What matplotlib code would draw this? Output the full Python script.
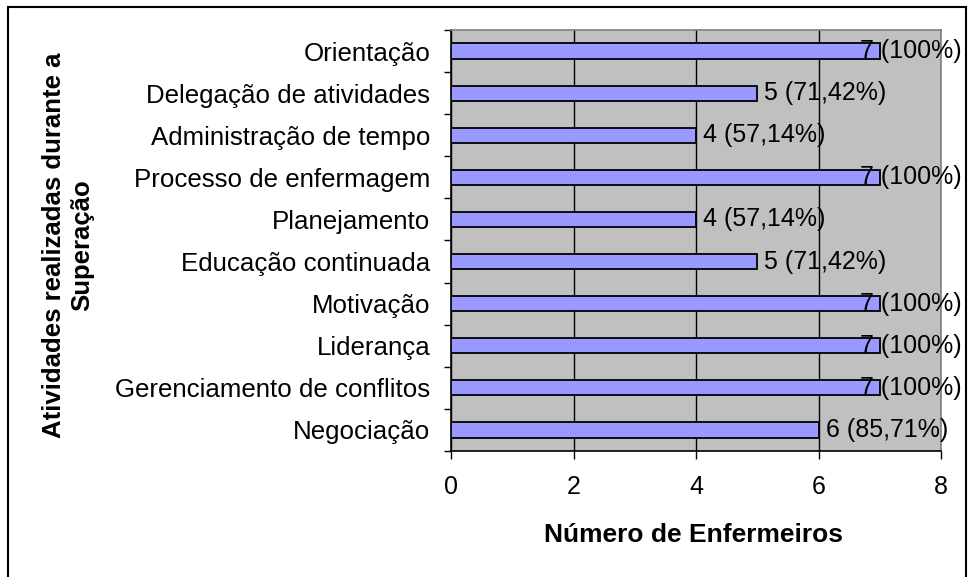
import matplotlib
matplotlib.use('Agg')
import matplotlib.pyplot as plt
import matplotlib.patches as mpatches
import numpy as np

plt.rcParams['font.family'] = ['Liberation Sans', 'DejaVu Sans']

categories = ['Orientação', 'Delegação de atividades', 'Administração de tempo',
              'Processo de enfermagem', 'Planejamento', 'Educação continuada',
              'Motivação', 'Liderança', 'Gerenciamento de conflitos', 'Negociação']
values = [7, 5, 4, 7, 4, 5, 7, 7, 7, 6]
value_labels = ['7 (100%)', '5 (71,42%)', '4 (57,14%)', '7 (100%)', '4 (57,14%)',
                '5 (71,42%)', '7 (100%)', '7 (100%)', '7 (100%)', '6 (85,71%)']
x_ticks = [0, 2, 4, 6, 8]

fig = plt.figure(figsize=(9.68, 5.77), dpi=100)
ax = fig.add_axes([451/968, 1 - 451/577, (941-451)/968, (451-30)/577])
ax.set_facecolor('#C0C0C0')

y = np.arange(len(categories))
ax.barh(y, values, height=0.36, color='#9999FF', edgecolor='black', linewidth=1.3, zorder=3)

for yi, v, lab in zip(y, values, value_labels):
    # labels on the longest bars get pushed left to stay inside the frame
    dx = -20 if v == max(values) else 7
    ax.annotate(lab, (v, yi), xytext=(dx, 0), textcoords='offset pixels',
                ha='left', va='center', fontsize=18, zorder=4, annotation_clip=False)

ax.set_xlim(0, 8)
ax.set_ylim(len(categories) - 0.5, -0.5)
ax.set_xticks(x_ticks)
ax.set_xticklabels([str(t) for t in x_ticks], fontsize=18)
ax.set_yticks(y)
ax.set_yticklabels(categories, fontsize=18.6)
ax.set_yticks(np.arange(len(categories) + 1) - 0.5, minor=True)
ax.tick_params(axis='y', which='major', length=0, pad=15)
ax.tick_params(axis='y', which='minor', length=5, width=1, direction='out')
ax.tick_params(axis='x', which='major', length=6, width=1, direction='out', pad=11)
ax.xaxis.grid(True, color='black', linewidth=1)
ax.set_axisbelow(True)

ax.spines['left'].set_color('black')
ax.spines['bottom'].set_color('black')
ax.spines['top'].set_color('#808080')
ax.spines['right'].set_color('#808080')
for s in ax.spines.values():
    s.set_linewidth(1.2)

fig.text(694/968, 1 - 535/577, 'Número de Enfermeiros', fontsize=19, fontweight='bold',
         ha='center', va='center')
fig.text(68/968, 1 - 245/577, 'Atividades realizadas durante a\nSuperação', fontsize=18.5,
         fontweight='bold', rotation=90, ha='center', va='center', multialignment='center',
         linespacing=1.2)

frame = mpatches.Rectangle((8/968, -0.05), (966-8)/968, 1.05 - 7/577, transform=fig.transFigure,
                           fill=False, edgecolor='black', linewidth=1.5, clip_on=False)
fig.patches.append(frame)

fig.savefig('out.png', dpi=100, facecolor='white')
